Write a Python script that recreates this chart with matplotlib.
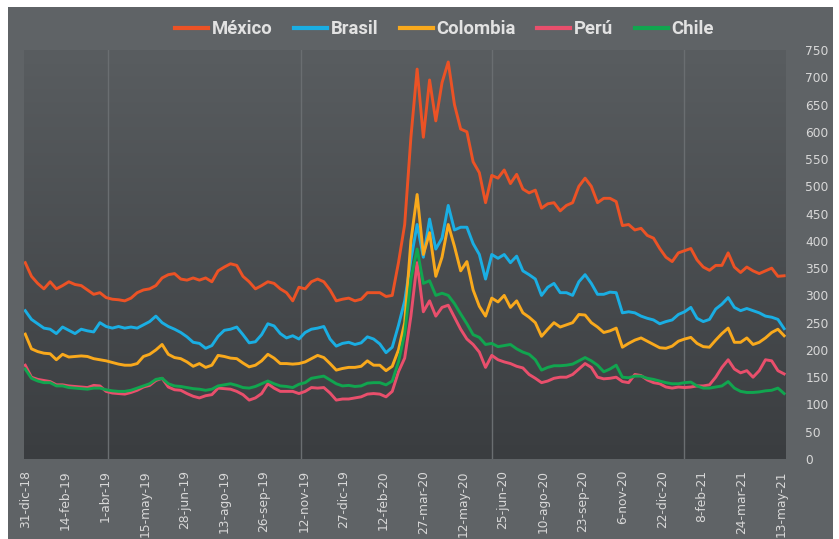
import numpy as np
import matplotlib
matplotlib.use("Agg")
import matplotlib.pyplot as plt
from matplotlib.colors import LinearSegmentedColormap
from matplotlib.patches import Rectangle

# ---- data (weekly readings, basis points) ----
tick_labels = ["31-dic-18", "14-feb-19", "1-abr-19", "15-may-19", "28-jun-19", "13-ago-19",
               "26-sep-19", "12-nov-19", "27-dic-19", "12-feb-20", "27-mar-20", "12-may-20",
               "25-jun-20", "10-ago-20", "23-sep-20", "6-nov-20", "22-dic-20", "8-feb-21",
               "24-mar-21", "13-may-21"]

mexico = [360, 335, 322, 312, 325, 312, 318, 325, 320, 318, 310, 302, 305, 296, 293, 292, 290, 295,
          305, 310, 312, 318, 332, 338, 340, 330, 328, 332, 328, 332, 325, 345, 352, 358, 355, 335,
          325, 312, 318, 325, 322, 312, 305, 290, 315, 312, 325, 330, 325, 310, 290, 293, 295, 290,
          293, 305, 305, 305, 298, 300, 360, 430, 590, 715, 590, 695, 620, 690, 728, 650, 605, 600,
          545, 525, 470, 520, 515, 530, 505, 522, 495, 488, 493, 460, 468, 470, 455, 465, 470, 500,
          515, 500, 470, 478, 478, 472, 428, 430, 420, 423, 410, 405, 386, 370, 362, 378, 382, 386,
          365, 352, 346, 355, 355, 378, 352, 342, 352, 345, 340, 345, 350, 335, 336]

brasil = [272, 256, 248, 240, 238, 230, 242, 236, 230, 238, 235, 233, 250, 243, 240, 243, 240, 242,
          240, 246, 252, 262, 250, 243, 238, 232, 224, 214, 212, 203, 208, 225, 236, 238, 242, 228,
          213, 215, 228, 248, 244, 230, 222, 226, 220, 232, 238, 240, 243, 220, 207, 212, 214, 210,
          213, 224, 220, 211, 195, 205, 245, 290, 365, 430, 370, 440, 385, 405, 465, 420, 425, 425,
          395, 375, 330, 375, 368, 375, 360, 372, 345, 338, 330, 300, 315, 322, 305, 305, 300, 325,
          338, 322, 302, 302, 306, 305, 268, 270, 268, 262, 258, 255, 248, 252, 255, 265, 270, 278,
          258, 252, 256, 275, 284, 296, 278, 272, 276, 272, 268, 262, 260, 256, 239]

colombia = [229, 202, 197, 194, 193, 182, 192, 187, 188, 189, 188, 184, 182, 180, 177, 174, 172, 172,
            175, 188, 192, 200, 210, 192, 186, 184, 178, 170, 175, 168, 172, 190, 188, 185, 184, 176,
            169, 172, 180, 192, 185, 175, 175, 174, 175, 178, 184, 190, 186, 175, 163, 166, 168, 168,
            170, 180, 172, 172, 162, 170, 200, 250, 400, 485, 375, 415, 335, 370, 430, 390, 345, 362,
            310, 280, 262, 295, 288, 300, 278, 290, 268, 260, 250, 225, 238, 250, 242, 246, 250, 265,
            264, 250, 242, 232, 235, 240, 205, 212, 218, 222, 216, 210, 204, 203, 207, 216, 220, 223,
            212, 206, 205, 218, 230, 240, 214, 214, 222, 210, 214, 222, 232, 238, 226]

peru = [172, 150, 146, 144, 142, 136, 136, 134, 133, 132, 131, 135, 134, 124, 121, 120, 119, 122,
        126, 132, 135, 144, 148, 132, 127, 126, 120, 115, 112, 116, 118, 130, 129, 128, 124, 118,
        108, 112, 120, 138, 130, 124, 124, 124, 120, 124, 131, 130, 131, 121, 108, 110, 110, 112,
        114, 119, 120, 119, 114, 124, 160, 185, 262, 360, 270, 290, 262, 278, 282, 260, 238, 220,
        210, 196, 168, 190, 182, 178, 175, 170, 167, 155, 148, 140, 143, 148, 150, 150, 155, 165,
        175, 168, 150, 147, 148, 150, 142, 140, 155, 153, 145, 140, 138, 132, 130, 132, 131, 132,
        134, 134, 136, 150, 168, 182, 165, 158, 162, 150, 162, 182, 180, 162, 156]

chile = [165, 148, 143, 140, 140, 134, 134, 131, 130, 129, 128, 130, 130, 127, 125, 124, 124, 126,
         130, 134, 138, 146, 148, 138, 134, 133, 131, 129, 128, 126, 128, 134, 136, 138, 135, 131,
         130, 133, 138, 143, 138, 134, 133, 131, 137, 140, 148, 150, 152, 145, 138, 134, 135, 133,
         134, 139, 140, 140, 136, 143, 178, 230, 330, 385, 322, 327, 300, 304, 300, 285, 266, 248,
         228, 223, 210, 212, 206, 208, 210, 202, 196, 192, 182, 163, 168, 171, 171, 172, 174, 180,
         186, 180, 172, 160, 165, 172, 150, 149, 152, 152, 148, 146, 143, 140, 138, 138, 140, 141,
         134, 130, 130, 132, 134, 142, 130, 124, 122, 122, 123, 125, 126, 130, 120]

series_names = ["México", "Brasil", "Colombia", "Perú", "Chile"]
series_values = [mexico, brasil, colombia, peru, chile]
series_colors = ["#EC5225", "#1AAEE3", "#F9A91C", "#E94F6C", "#11A54F"]

# positions: one point per week; labels every 32 trading days (= 6.4 weeks)
n = len(mexico)
x = np.arange(n)
tick_pos = np.arange(len(tick_labels)) * 6.4
grid_pos = [13.3, 44.3, 75.0, 105.9]

W, H = 839, 539
fig = plt.figure(figsize=(W / 100, H / 100), dpi=100, facecolor="white")
fig.patches.append(Rectangle((8 / W, 0), (833 - 8) / W, (H - 7) / H, transform=fig.transFigure,
                             facecolor="#5f6366", edgecolor="none", zorder=-5))

pos = [24 / W, (H - 459) / H, (786 - 24) / W, (459 - 50) / H]
bg = fig.add_axes(pos, zorder=1)
cmap = LinearSegmentedColormap.from_list("g", ["#3a3d40", "#595d60"])
bg.imshow(np.linspace(0, 1, 256).reshape(-1, 1)[::-1], cmap=cmap, aspect="auto",
          extent=[0, 1, 0, 1], interpolation="bicubic")
bg.set_axis_off()

ax = fig.add_axes(pos, zorder=2)
ax.patch.set_alpha(0)
for gp in grid_pos:
    ax.axvline(gp, color="#6a6e71", lw=1.0, zorder=1)

for name, vals, col in zip(series_names, series_values, series_colors):
    ax.plot(x, vals, color=col, lw=2.1, label=name, zorder=3, solid_joinstyle="round")

ax.set_xlim(-0.2, 122.3)
ax.set_ylim(0, 750)
ax.yaxis.tick_right()
ax.set_yticks(np.arange(0, 751, 50))
ax.tick_params(axis="y", length=0, pad=14, labelcolor="#d8d8d8", labelsize=8.8)
ax.set_xticks(tick_pos)
ax.set_xticklabels(tick_labels, rotation=90, fontsize=8.8, color="#d8d8d8")
ax.tick_params(axis="x", length=0, pad=8)
for s in ax.spines.values():
    s.set_visible(False)

leg = fig.legend(loc="center", bbox_to_anchor=(444.5 / W, 1 - 29 / H), ncol=5, frameon=False,
                 handlelength=1.8, handletextpad=0.2, columnspacing=1.15,
                 prop={"family": ["Roboto", "DejaVu Sans"], "weight": "bold", "size": 13.3})
for t in leg.get_texts():
    t.set_color("#e2e2e2")
for h in leg.legend_handles:
    h.set_linewidth(3)

fig.savefig("out.png", dpi=100, facecolor=fig.get_facecolor())
